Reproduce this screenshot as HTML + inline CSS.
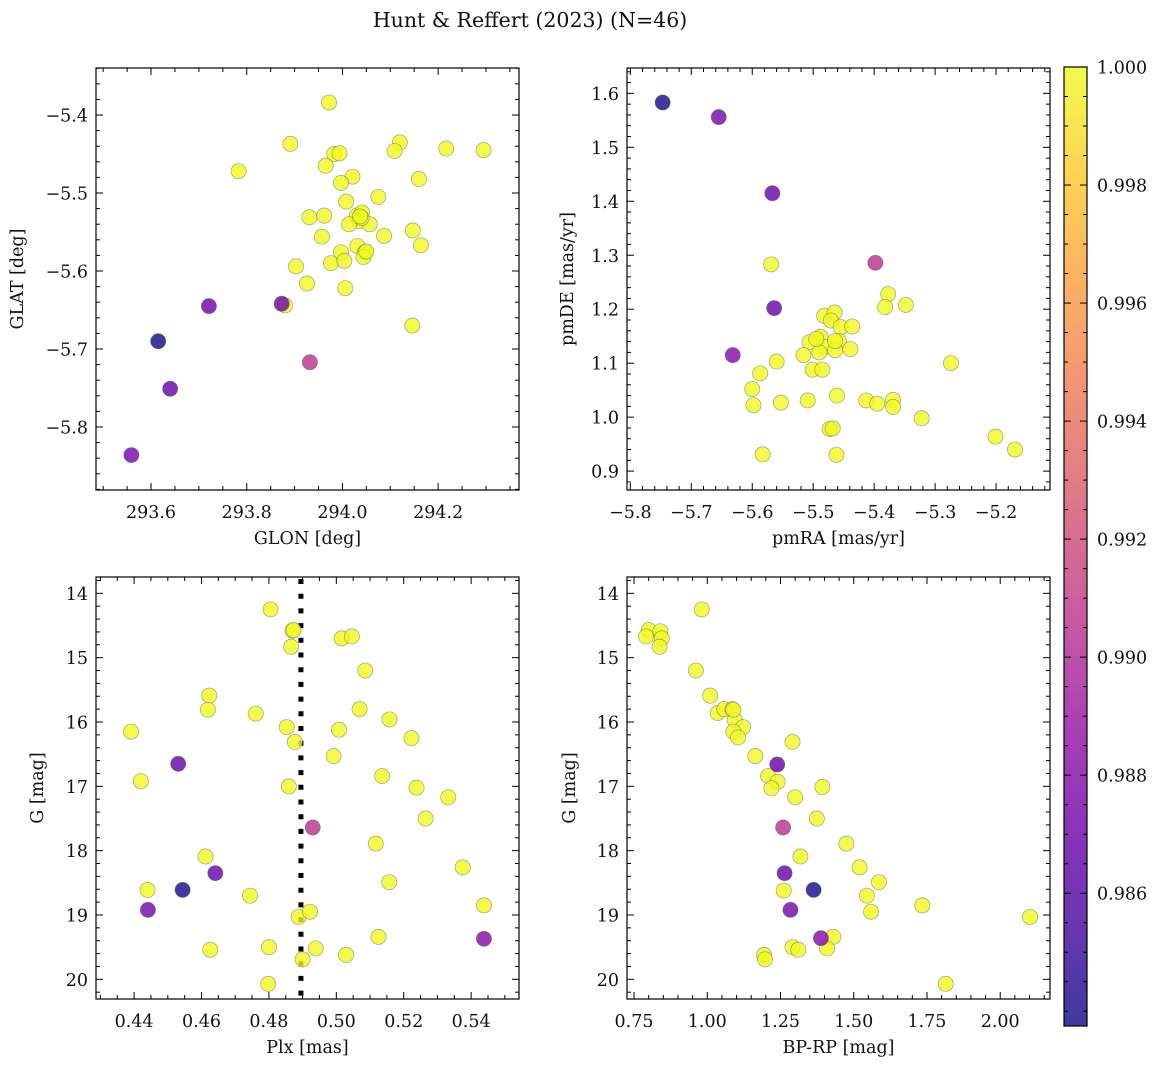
<!DOCTYPE html>
<html><head><meta charset="utf-8">
<style>
body{margin:0;background:#fff;}
svg{display:block;font-family:"DejaVu Serif","Liberation Serif",serif;}
</style></head>
<body>
<svg id="fig" width="1161" height="1067" viewBox="0 0 1161 1067" xmlns="http://www.w3.org/2000/svg">
<rect width="1161" height="1067" fill="#fff"/>
<text x="530" y="27" font-size="20.5" text-anchor="middle" fill="#111">Hunt &amp; Reffert (2023) (N=46)</text>
</svg>
<script>
// ---- data: top-left (GLON/GLAT) ----
const tlGlon = [293.972,293.891,293.783,294.120,294.109,294.217,294.295,293.983,293.994,293.965,294.021,293.997,294.160,294.075,294.008,293.931,293.962,294.030,294.041,294.036,294.014,294.057,294.147,293.957,294.087,294.164,294.031,293.997,294.047,294.044,293.976,294.004,293.903,293.926,294.006,294.146,294.040,294.037,294.050,293.873,293.880,293.721,293.615,293.932,293.640,293.559];
const tlGlat = [-5.384,-5.437,-5.472,-5.435,-5.446,-5.443,-5.445,-5.450,-5.449,-5.465,-5.479,-5.487,-5.482,-5.505,-5.511,-5.531,-5.529,-5.529,-5.525,-5.536,-5.540,-5.540,-5.548,-5.556,-5.555,-5.567,-5.568,-5.576,-5.576,-5.582,-5.590,-5.587,-5.594,-5.616,-5.622,-5.670,-5.532,-5.530,-5.575,-5.642,-5.644,-5.645,-5.690,-5.717,-5.751,-5.836];
const tlProb = [1,1,1,1,1,1,1,1,1,1,1,1,1,1,1,1,1,1,1,1,1,1,1,1,1,1,1,1,1,1,1,1,1,1,1,1,1,1,1,0.9872,1,0.9870,0.9838,0.9905,0.9868,0.9874];
// ---- data: top-right (pmRA/pmDE) ----
const trPmra = [-5.569,-5.377,-5.382,-5.348,-5.482,-5.465,-5.471,-5.455,-5.436,-5.488,-5.506,-5.458,-5.481,-5.490,-5.464,-5.439,-5.516,-5.560,-5.274,-5.501,-5.485,-5.587,-5.600,-5.598,-5.553,-5.509,-5.461,-5.413,-5.395,-5.369,-5.369,-5.322,-5.473,-5.468,-5.201,-5.169,-5.583,-5.462,-5.464,-5.495,-5.747,-5.655,-5.567,-5.398,-5.564,-5.632];
const trPmde = [1.283,1.228,1.204,1.208,1.188,1.194,1.179,1.167,1.168,1.149,1.139,1.141,1.130,1.120,1.124,1.126,1.115,1.103,1.100,1.088,1.088,1.081,1.052,1.022,1.027,1.031,1.040,1.031,1.025,1.032,1.019,0.998,0.978,0.979,0.964,0.940,0.931,0.930,1.141,1.145,1.583,1.556,1.415,1.286,1.202,1.115];
const trProb = [1,1,1,1,1,1,1,1,1,1,1,1,1,1,1,1,1,1,1,1,1,1,1,1,1,1,1,1,1,1,1,1,1,1,1,1,1,1,1,1,0.9838,0.9874,0.9866,0.9905,0.9868,0.9880];
// ---- data: bottom-left (Plx/G) ----
const blPlx = [0.4805,0.4870,0.4873,0.4866,0.5016,0.5046,0.5086,0.4623,0.4619,0.4761,0.5069,0.5158,0.4391,0.4853,0.5008,0.4877,0.5223,0.4992,0.4531,0.4420,0.4859,0.5136,0.5238,0.5332,0.5265,0.4930,0.5117,0.4612,0.4641,0.5375,0.4440,0.4544,0.4744,0.5157,0.4441,0.5438,0.4888,0.4922,0.5125,0.5438,0.4626,0.4800,0.4939,0.4900,0.5029,0.4798];
const blG = [14.25,14.58,14.57,14.83,14.70,14.67,15.20,15.59,15.81,15.87,15.80,15.96,16.15,16.08,16.12,16.31,16.25,16.53,16.65,16.92,17.00,16.84,17.02,17.17,17.50,17.64,17.89,18.09,18.35,18.26,18.61,18.61,18.70,18.49,18.92,18.85,19.03,18.95,19.34,19.37,19.54,19.50,19.52,19.69,19.62,20.07];
const blProb = [1,1,1,1,1,1,1,1,1,1,1,1,1,1,1,1,1,1,0.9868,1,1,1,1,1,1,0.9905,1,1,0.9866,1,1,0.9838,1,1,0.9872,1,1,1,1,0.9880,1,1,1,1,1,1];
const plxRef = [0.4895];
// ---- data: bottom-right (BP-RP/G) ----
const brBprp = [0.981,0.800,0.840,0.791,0.845,0.837,0.961,1.010,1.036,1.058,1.086,1.094,1.122,1.089,1.105,1.291,1.164,1.239,1.208,1.240,1.219,1.393,1.300,1.374,1.259,1.475,1.318,1.520,1.264,1.586,1.261,1.363,1.545,1.284,1.734,1.559,2.102,1.388,1.430,1.291,1.311,1.409,1.194,1.197,1.814,1.089];
const brG = [14.25,14.57,14.59,14.67,14.70,14.83,15.20,15.59,15.86,15.80,15.80,15.97,16.08,16.15,16.24,16.31,16.53,16.66,16.84,16.93,17.03,17.01,17.17,17.50,17.64,17.89,18.09,18.26,18.35,18.49,18.62,18.61,18.70,18.92,18.85,18.95,19.03,19.36,19.34,19.50,19.54,19.52,19.62,19.69,20.07,15.81];
const brProb = [1,1,1,1,1,1,1,1,1,1,1,1,1,1,1,1,1,0.9868,1,1,1,1,1,1,0.9905,1,1,1,0.9866,1,1,0.9838,1,0.9872,1,1,1,0.9880,1,1,1,1,1,1,1,1];
// ---- colorbar ----
const cbTicks = [0.986,0.988,0.990,0.992,0.994,0.996,0.998,1.000];
const cbLim = [0.98375,1.0];

const NS="http://www.w3.org/2000/svg";
const svg=document.getElementById('fig');
const FS=17.5;
function mk(tag,attrs,parent){const e=document.createElementNS(NS,tag);for(const k in attrs)e.setAttribute(k,attrs[k]);(parent||svg).appendChild(e);return e;}
const plasma=[[13,8,135],[65,4,157],[106,0,168],[143,13,164],[177,42,144],[204,71,120],[225,100,98],[242,132,75],[252,166,54],[252,206,37],[240,249,33]];
function cmap(t){t=Math.max(0,Math.min(1,t));const s=t*10,i=Math.min(9,Math.floor(s)),f=s-i;const a=plasma[i],b=plasma[i+1];
 return 'rgb('+a.map((v,k)=>Math.round(v+(b[k]-v)*f)).join(',')+')';}
function fmtMinus(s){return s.replace('-','\u2212');}

function panel(o){
  const g=mk('g',{});
  
  
  const sx=v=>o.px0+(v-o.xlim[0])/(o.xlim[1]-o.xlim[0])*(o.px1-o.px0);
  const sy=v=>o.py1-(v-o.ylim[0])/(o.ylim[1]-o.ylim[0])*(o.py1-o.py0);
  const eps=1e-9;
  const tg=mk('g',{stroke:'#000','stroke-width':1},g);
  
  
  const lo=Math.min(o.xlim[0],o.xlim[1]),hi=Math.max(o.xlim[0],o.xlim[1]);
  for(let v=Math.ceil(lo/o.xminor-eps)*o.xminor;v<=hi+eps;v+=o.xminor){
    const x=sx(v);const maj=o.xmajor.some(m=>Math.abs(m-v)<o.xminor/3);const L=maj?7:4;
    mk('line',{x1:x,x2:x,y1:o.py1,y2:o.py1-L},tg);mk('line',{x1:x,x2:x,y1:o.py0,y2:o.py0+L},tg);}
  const ylo=Math.min(o.ylim[0],o.ylim[1]),yhi=Math.max(o.ylim[0],o.ylim[1]);
  for(let v=Math.ceil(ylo/o.yminor-eps)*o.yminor;v<=yhi+eps;v+=o.yminor){
    const y=sy(v);const maj=o.ymajor.some(m=>Math.abs(m-v)<o.yminor/3);const L=maj?7:4;
    mk('line',{x1:o.px0,x2:o.px0+L,y1:y,y2:y},tg);mk('line',{x1:o.px1,x2:o.px1-L,y1:y,y2:y},tg);}
  o.xmajor.forEach(v=>{const t=mk('text',{x:sx(v),y:o.py1+28,'font-size':FS,'text-anchor':'middle',fill:'#111'},g);
    t.textContent=fmtMinus(v.toFixed(o.xdec));
    
    });
  o.ymajor.forEach(v=>{const t=mk('text',{x:o.px0-8,y:sy(v)+6.5,'font-size':FS,'text-anchor':'end',fill:'#111'},g);
    t.textContent=fmtMinus(v.toFixed(o.ydec));
    
    });
  const xl=mk('text',{x:(o.px0+o.px1)/2,y:o.py1+54,'font-size':FS,'text-anchor':'middle',fill:'#111'},g);
  xl.textContent=o.xlabel;
  
  
  const yx=o.ylabx,yy=(o.py0+o.py1)/2;
  const yl=mk('text',{x:yx,y:yy,'font-size':FS,'text-anchor':'middle',fill:'#111',transform:'rotate(-90 '+yx+' '+yy+')'},g);
  yl.textContent=o.ylabel;
  
  
  if(o.vline!==undefined){
    const ln=mk('line',{x1:sx(o.vline),x2:sx(o.vline),y1:o.py0+2,y2:o.py1,stroke:'#000','stroke-width':5,'stroke-dasharray':'5 9.7'},g);
    
    
  }
  const idx=o.xs.map((_,i)=>i).sort((a,b)=>o.ps[b]-o.ps[a]);
  idx.forEach(i=>{
    const t=(o.ps[i]-cbLim[0])/(cbLim[1]-cbLim[0]);
    const c=mk('circle',{cx:sx(o.xs[i]),cy:sy(o.ys[i]),r:7.6,fill:cmap(t),'fill-opacity':0.8,stroke:'rgba(90,90,90,0.55)','stroke-width':0.7},g);
    
    
  });
  const fr=mk('rect',{x:o.px0,y:o.py0,width:o.px1-o.px0,height:o.py1-o.py0,fill:'none',stroke:'#000','stroke-width':1.2},g);
  
  
}

panel({name:'sky-position-panel',px0:96,px1:519,py0:68,py1:490,xlim:[293.485,294.369],ylim:[-5.8808,-5.3397],
  xmajor:[293.6,293.8,294.0,294.2],xminor:0.05,ymajor:[-5.8,-5.7,-5.6,-5.5,-5.4],yminor:0.02,xdec:1,ydec:1,
  xlabel:'GLON [deg]',ylabel:'GLAT [deg]',ylabx:23,xs:tlGlon,ys:tlGlat,ps:tlProb});
panel({name:'proper-motion-panel',px0:627,px1:1050,py0:68,py1:490,xlim:[-5.8055,-5.1115],ylim:[0.865,1.647],
  xmajor:[-5.8,-5.7,-5.6,-5.5,-5.4,-5.3,-5.2],xminor:0.02,ymajor:[0.9,1.0,1.1,1.2,1.3,1.4,1.5,1.6],yminor:0.02,xdec:1,ydec:1,
  xlabel:'pmRA [mas/yr]',ylabel:'pmDE [mas/yr]',ylabx:573,xs:trPmra,ys:trPmde,ps:trProb});
panel({name:'parallax-magnitude-panel',px0:96,px1:519,py0:577,py1:999,xlim:[0.4287,0.5542],ylim:[20.306,13.746],
  xmajor:[0.44,0.46,0.48,0.50,0.52,0.54],xminor:0.005,ymajor:[14,15,16,17,18,19,20],yminor:0.2,xdec:2,ydec:0,
  xlabel:'Plx [mas]',ylabel:'G [mag]',ylabx:43,xs:blPlx,ys:blG,ps:blProb,vline:plxRef[0]});
panel({name:'color-magnitude-panel',px0:627,px1:1050,py0:577,py1:999,xlim:[0.726,2.170],ylim:[20.306,13.746],
  xmajor:[0.75,1.0,1.25,1.5,1.75,2.0],xminor:0.05,ymajor:[14,15,16,17,18,19,20],yminor:0.2,xdec:2,ydec:0,
  xlabel:'BP-RP [mag]',ylabel:'G [mag]',ylabx:575,xs:brBprp,ys:brG,ps:brProb});

(function(){
  const x0=1064,x1=1087,y0=67,y1=1026;
  const defs=mk('defs',{});
  const lg=mk('linearGradient',{id:'cbg',x1:0,y1:1,x2:0,y2:0},defs);
  for(let k=0;k<=40;k++){mk('stop',{offset:(k/40),'stop-color':cmap(k/40),'stop-opacity':0.8},lg);}
  const g=mk('g',{});
  
  
  mk('rect',{x:x0,y:y0,width:x1-x0,height:y1-y0,fill:'url(#cbg)'},g);
  const sy=v=>y1-(v-cbLim[0])/(cbLim[1]-cbLim[0])*(y1-y0);
  for(let v=0.984;v<=1.00001;v+=0.0005){const y=sy(v);if(y<y0-0.5)continue;
    const maj=cbTicks.some(m=>Math.abs(m-v)<1e-5);const L=maj?7:4;
    mk('line',{x1:x1,x2:x1-L,y1:y,y2:y,stroke:'#000'},g);mk('line',{x1:x0,x2:x0+L,y1:y,y2:y,stroke:'#000'},g);}
  cbTicks.forEach(v=>{const t=mk('text',{x:x1+10,y:sy(v)+6.5,'font-size':FS,fill:'#111'},g);t.textContent=v.toFixed(3);
    
    });
  mk('rect',{x:x0,y:y0,width:x1-x0,height:y1-y0,fill:'none',stroke:'#000','stroke-width':1.2},g);
})();
</script>
</body></html>
